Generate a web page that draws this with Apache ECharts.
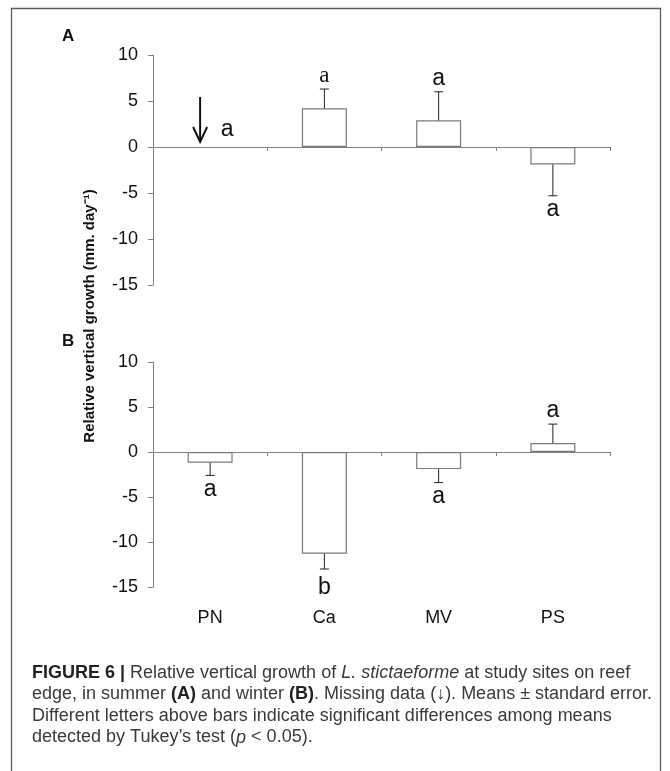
<!DOCTYPE html>
<html>
<head>
<meta charset="utf-8">
<script src="https://cdn.jsdelivr.net/npm/echarts@6/dist/echarts.min.js"></script>
<style>
html,body{margin:0;padding:0;background:#fff;}
#chart{width:670px;height:771px;}
</style>
</head>
<body>
<div id="chart"></div>
<script>
// ---- data ----
const categories = ['PN', 'Ca', 'MV', 'PS'];
const yTicks = [-15, -10, -5, 0, 5, 10];
// Panel A: summer (PN missing)
const summerMean = [null, 4.2, 2.9, -1.9];
const summerSE = [null, 2.1, 3.1, 3.4];
const summerLetters = ['a', 'a', 'a', 'a'];
// Panel B: winter
const winterMean = [-1.2, -11.3, -1.9, 1.0];
const winterSE = [1.4, 1.7, 1.5, 2.1];
const winterLetters = ['a', 'b', 'a', 'a'];

const captionLines = [
  '{b|FIGURE 6 |} Relative vertical growth of {i|L. stictaeforme} at study sites on reef',
  'edge, in summer {b|(A)} and winter {b|(B)}. Missing data (\u2193). Means \u00b1 standard error.',
  'Different letters above bars indicate significant differences among means',
  'detected by Tukey\u2019s test ({i|p} < 0.05).'
];

const chart = echarts.init(document.getElementById('chart'), null, {renderer: 'canvas'});

function errData(means, ses) {
  return means.map((m, i) => m == null ? [i, 0, 0] : [i, m, m + Math.sign(m) * ses[i]]);
}

function makeRender(means, letters, serifIdx) {
  return function (params, api) {
    const i = params.dataIndex;
    const children = [];
    const m = means[i];
    const txtStyle = (txt, x, y, serif) => ({
      type: 'text',
      style: {
        text: txt, x: x, y: y,
        font: serif ? '23px "Liberation Serif"' : '23px "Liberation Sans"',
        fill: '#111', textAlign: 'center', textVerticalAlign: 'middle'
      }
    });
    if (m == null) {
      const p = api.coord([i, 0]);
      const ax = p[0] - 10;
      const tipY = p[1] - 5;
      children.push({type: 'line', shape: {x1: ax, y1: tipY - 45, x2: ax, y2: tipY}, style: {stroke: '#111', lineWidth: 2}});
      children.push({type: 'polyline', shape: {points: [[ax - 7, tipY - 15], [ax, tipY], [ax + 7, tipY - 15]]}, style: {stroke: '#111', lineWidth: 2, fill: null}});
      children.push(txtStyle(letters[i], p[0] + 17, p[1] - 17, false));
      return {type: 'group', children: children};
    }
    const e = api.value(2);
    const p0 = api.coord([i, m]);
    const p1 = api.coord([i, e]);
    children.push({type: 'line', shape: {x1: p0[0], y1: p0[1], x2: p1[0], y2: p1[1]}, style: {stroke: '#222', lineWidth: 1}});
    children.push({type: 'line', shape: {x1: p1[0] - 4.5, y1: p1[1], x2: p1[0] + 4.5, y2: p1[1]}, style: {stroke: '#222', lineWidth: 1}});
    const up = m > 0;
    const tall = /[bdfhklt]/.test(letters[i]);
    const ty = up ? p1[1] - 13 : p1[1] + 14 + (tall ? 5 : 0);
    children.push(txtStyle(letters[i], p1[0], ty, i === serifIdx));
    return {type: 'group', children: children};
  };
}

const yAxisCommon = {
  type: 'value', min: -15, max: 10, interval: 5,
  axisLine: {show: true, lineStyle: {color: '#808080', width: 1}},
  axisTick: {show: true, inside: false, length: 5, lineStyle: {color: '#808080'}},
  axisLabel: {fontFamily: 'Liberation Sans', fontSize: 18, color: '#111', margin: 15},
  splitLine: {show: false}
};
const xAxisLine = {
  type: 'category', data: categories,
  axisLine: {show: true, onZero: true, lineStyle: {color: '#808080', width: 1}},
  axisTick: {show: true, length: 4, lineStyle: {color: '#808080'}},
  axisLabel: {show: false},
  splitLine: {show: false}
};

const capFont = '"Liberation Sans", Arial, sans-serif';
const capSize = 18;
const graphics = [
  {type: 'rect', shape: {x: 11.5, y: 8.5, width: 649, height: 800}, style: {fill: null, stroke: '#5a5a5a', lineWidth: 1.3}, silent: true},
  {type: 'text', x: 62, y: 28, style: {text: 'A', font: 'bold 17px "Liberation Sans"', fill: '#111'}},
  {type: 'text', x: 62, y: 333, style: {text: 'B', font: 'bold 17px "Liberation Sans"', fill: '#111'}},
  {type: 'text', x: 90, y: 316, rotation: Math.PI / 2,
    style: {text: 'Relative vertical growth (mm. day\u207b\u00b9)', font: 'bold 15px "Liberation Sans"', fill: '#111', textAlign: 'center', textVerticalAlign: 'middle'}}
];
captionLines.forEach((line, k) => {
  graphics.push({
    type: 'text', left: 32, top: 664 + k * 21.5,
    style: {
      text: line,
      font: capSize + 'px ' + capFont,
      fill: '#3a3a3a',
      rich: {
        b: {fontWeight: 'bold', fontSize: capSize, fontFamily: capFont, fill: '#222'},
        i: {fontStyle: 'italic', fontSize: capSize, fontFamily: capFont, fill: '#3a3a3a'}
      }
    }
  });
});

chart.setOption({
  animation: false,
  backgroundColor: '#fff',
  grid: [
    {left: 153, top: 55, width: 457, height: 230},
    {left: 153, top: 362, width: 457, height: 225}
  ],
  xAxis: [
    Object.assign({gridIndex: 0}, xAxisLine),
    Object.assign({gridIndex: 1}, xAxisLine),
    {gridIndex: 1, type: 'category', data: categories, position: 'bottom',
      axisLine: {show: false, onZero: false}, axisTick: {show: false},
      axisLabel: {show: true, fontFamily: 'Liberation Sans', fontSize: 18, color: '#111', margin: 22},
      splitLine: {show: false}}
  ],
  yAxis: [
    Object.assign({gridIndex: 0}, yAxisCommon),
    Object.assign({gridIndex: 1}, yAxisCommon)
  ],
  series: [
    {type: 'bar', xAxisIndex: 0, yAxisIndex: 0, data: summerMean, barWidth: 45,
      itemStyle: {color: '#fff', borderColor: '#7a7a7a', borderWidth: 1.2}, silent: true},
    {type: 'custom', xAxisIndex: 0, yAxisIndex: 0, data: errData(summerMean, summerSE),
      encode: {x: 0, y: [1, 2]}, renderItem: makeRender(summerMean, summerLetters, 1), silent: true, z: 5},
    {type: 'bar', xAxisIndex: 1, yAxisIndex: 1, data: winterMean, barWidth: 45,
      itemStyle: {color: '#fff', borderColor: '#7a7a7a', borderWidth: 1.2}, silent: true},
    {type: 'custom', xAxisIndex: 1, yAxisIndex: 1, data: errData(winterMean, winterSE),
      encode: {x: 0, y: [1, 2]}, renderItem: makeRender(winterMean, winterLetters, -1), silent: true, z: 5}
  ],
  graphic: graphics
});
</script>
</body>
</html>
